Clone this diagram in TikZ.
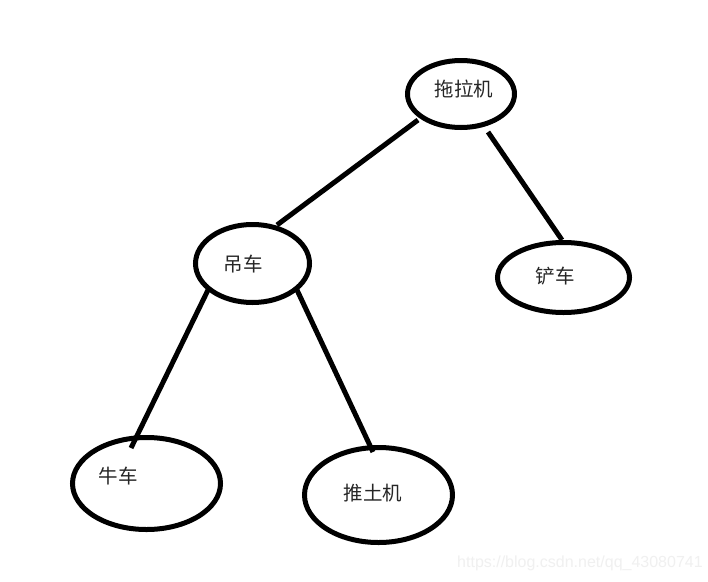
\documentclass[tikz,border=0pt]{standalone}
\usepackage{fontspec}
\newfontfamily\cjk{Noto Sans CJK SC}
\newfontfamily\wm{Liberation Sans}
\usetikzlibrary{shapes.geometric}
\begin{document}
\begin{tikzpicture}[x=1pt,y=-1pt,
  oval/.style={draw=black, line width=5pt, ellipse, inner sep=0pt, outer sep=0pt},
  lbl/.style={font=\cjk\fontsize{19.5}{19.5}\selectfont, text=black!85, inner sep=0pt},
  edge/.style={draw=black, line width=5pt}]
\useasboundingbox[fill=white] (0,0) rectangle (708,581);
\node[oval, minimum width=107pt, minimum height=67pt] (tuo) at (461,94) {};
\node[oval, minimum width=114pt, minimum height=78pt] (diao) at (252.5,263.5) {};
\node[oval, minimum width=132pt, minimum height=70pt] (chan) at (563.5,277.5) {};
\node[oval, minimum width=148pt, minimum height=92pt] (niu) at (146.5,483.5) {};
\node[oval, minimum width=148pt, minimum height=95pt] (tui) at (378.5,495) {};
\node[lbl] (tuoL) at (464,89) {拖拉机};
\node[lbl] (diaoL) at (243,264) {吊车};
\node[lbl] (chanL) at (555,276) {铲车};
\node[lbl] (niuL) at (118,476) {牛车};
\node[lbl] (tuiL) at (373,493) {推土机};
\draw[edge] ([shift={(-43,26)}]tuo.center) -- ([shift={(24.5,-38.5)}]diao.center);
\draw[edge] ([shift={(27,38)}]tuo.center) -- ([shift={(-1.5,-37.5)}]chan.center);
\draw[edge] ([shift={(-44.5,26.5)}]diao.center) -- ([shift={(-15.5,-35.5)}]niu.center);
\draw[edge] ([shift={(44.5,26.5)}]diao.center) -- ([shift={(-5.5,-43)}]tui.center);
\node[font=\wm\fontsize{16}{16}\selectfont, text=black!6, inner sep=0pt, anchor=base west] (mark) at (457,567) {https://blog.csdn.net/qq\_43080741};
\end{tikzpicture}
\end{document}
